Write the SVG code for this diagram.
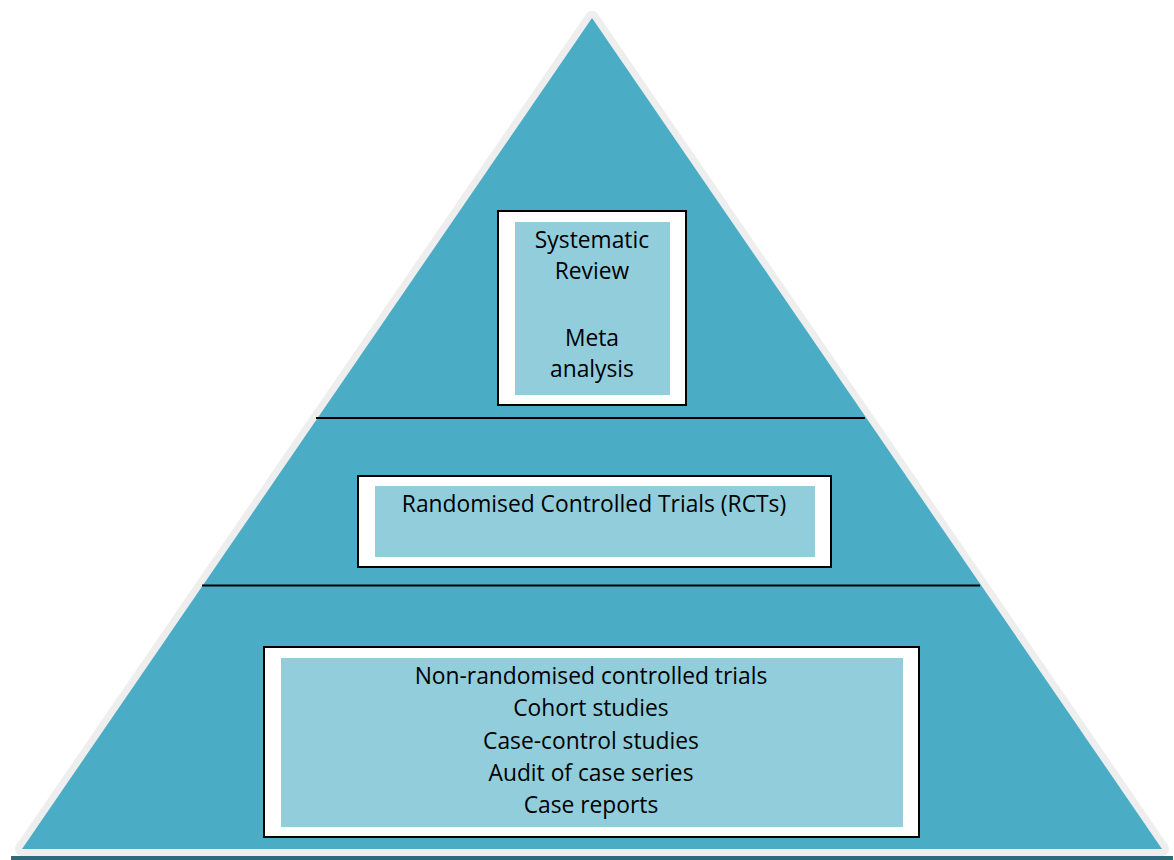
<svg xmlns="http://www.w3.org/2000/svg" width="1174" height="860" viewBox="0 0 1174 860">
  <style>
    .frame { fill: #ffffff; stroke: #000000; stroke-width: 2; }
    .panel { fill: #92cddc; }
    .divider { stroke: #000000; stroke-width: 2; }
    .label { font-family: "Open Sans", "Liberation Sans", sans-serif; font-size: 22.8px; fill: #000000; text-anchor: middle; }
  </style>
  <rect width="1174" height="860" fill="#ffffff"/>

  <!-- pyramid body with pale rim and base shadow -->
  <g id="pyramid">
    <rect x="11" y="856" width="1162" height="4" fill="#2d6a7c"/>
    <polygon points="592,18 22,849 1162,849" fill="#eeeeee" stroke="#eeeeee" stroke-width="14" stroke-linejoin="round"/>
    <polygon points="592,18 22,849 1162,849" fill="#4bacc6"/>
  </g>

  <!-- tier dividers -->
  <g id="connectors">
    <line class="divider" x1="316" y1="418" x2="865" y2="418"/>
    <line class="divider" x1="202" y1="585.5" x2="980" y2="585.5"/>
  </g>

  <g id="tier-top">
    <rect class="frame" x="498" y="211" width="188" height="194"/>
    <rect class="panel" x="515" y="222" width="155" height="173"/>
    <text class="label" x="592" y="248">Systematic</text>
    <text class="label" x="592" y="279">Review</text>
    <text class="label" x="592" y="346">Meta</text>
    <text class="label" x="592" y="377">analysis</text>
  </g>

  <g id="tier-middle">
    <rect class="frame" x="358" y="476" width="473" height="91"/>
    <rect class="panel" x="375" y="486" width="440" height="71"/>
    <text class="label" x="594" y="512">Randomised Controlled Trials (RCTs)</text>
  </g>

  <g id="tier-bottom">
    <rect class="frame" x="264" y="647" width="655" height="190"/>
    <rect class="panel" x="281" y="658" width="622" height="169"/>
    <text class="label" x="591" y="684">Non-randomised controlled trials</text>
    <text class="label" x="591" y="716">Cohort studies</text>
    <text class="label" x="591" y="749">Case-control studies</text>
    <text class="label" x="591" y="781">Audit of case series</text>
    <text class="label" x="591" y="813">Case reports</text>
  </g>
</svg>
